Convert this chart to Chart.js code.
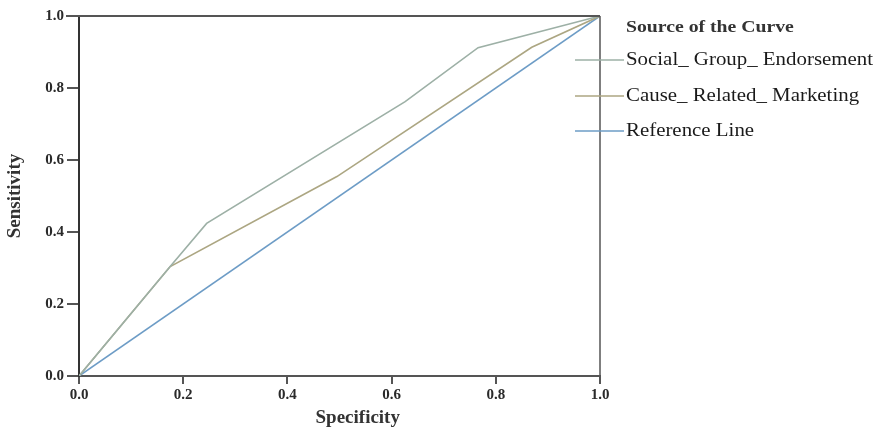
<!DOCTYPE html>
<html>
<head>
<meta charset="utf-8">
<script src="https://cdn.jsdelivr.net/npm/chart.js@4"></script>
<style>
  html, body { margin: 0; padding: 0; background: #fff; }
  #wrap { width: 884px; height: 429px; }
</style>
</head>
<body>
<div id="wrap"><canvas id="rocChart" width="884" height="429"></canvas></div>
<script>
// ROC curves, values
const seriesNames = ['Social_ Group_ Endorsement', 'Cause_ Related_ Marketing', 'Reference Line'];
const socialX = [0, 0.175, 0.245, 0.626, 0.766, 1];
const socialY = [0, 0.304, 0.424, 0.762, 0.912, 1];
const causeX = [0, 0.175, 0.495, 0.869, 1];
const causeY = [0, 0.304, 0.554, 0.913, 1];
const refX = [0, 1];
const refY = [0, 1];
const tickValues = [0, 0.2, 0.4, 0.6, 0.8, 1.0];
const colors = ['#9db0a6', '#aca682', '#6d9cc6'];

const serif = '"Liberation Serif", "DejaVu Serif", serif';

function toPoints(xs, ys) {
    return xs.map((x, i) => ({ x: x, y: ys[i] }));
}

// frame (top + right), x title and the custom legend
const framePlugin = {
    id: 'frame',
    afterDraw(chart) {
        const ctx = chart.ctx;
        const a = chart.chartArea;
        ctx.save();
        ctx.strokeStyle = '#555';
        ctx.lineWidth = 2;
        ctx.beginPath();
        ctx.moveTo(a.left - 13, a.top);
        ctx.lineTo(a.right, a.top);
        ctx.stroke();
        ctx.lineWidth = 1.5;
        ctx.beginPath();
        ctx.moveTo(a.right, a.top);
        ctx.lineTo(a.right, a.bottom);
        ctx.stroke();

        // x axis title sits a little right of the centre in the original
        ctx.fillStyle = '#333';
        ctx.textAlign = 'center';
        ctx.textBaseline = 'middle';
        ctx.font = 'bold 19px ' + serif;
        ctx.fillText('Specificity', a.left + (a.right - a.left) * 0.535, 418);
        ctx.textAlign = 'left';

        // legend
        const lx = a.right + 26;
        const rows = [60, 96, 131];
        chart.data.datasets.forEach((ds, i) => {
            ctx.strokeStyle = ds.borderColor;
            ctx.lineWidth = 1.5;
            ctx.beginPath();
            ctx.moveTo(a.right - 25, rows[i]);
            ctx.lineTo(a.right + 24, rows[i]);
            ctx.stroke();
        });
        // text is a bit wide in the original, stretch it horizontally
        ctx.translate(lx, 0);
        ctx.scale(1.16, 1);
        ctx.fillStyle = '#333';
        ctx.font = 'bold 17px ' + serif;
        ctx.fillText('Source of the Curve', 0, 28);
        ctx.font = '18px ' + serif;
        ctx.fillStyle = '#1a1a1a';
        chart.data.datasets.forEach((ds, i) => {
            ctx.fillText(ds.label, 0, rows[i]);
        });
        ctx.restore();
    }
};

const ctx = document.getElementById('rocChart');
new Chart(ctx, {
    type: 'scatter',
    data: {
        datasets: [
            { label: seriesNames[0], data: toPoints(socialX, socialY), borderColor: colors[0] },
            { label: seriesNames[1], data: toPoints(causeX, causeY), borderColor: colors[1] },
            { label: seriesNames[2], data: toPoints(refX, refY), borderColor: colors[2] }
        ].map(d => Object.assign(d, {
            showLine: true,
            borderWidth: 1.6,
            pointRadius: 0,
            tension: 0,
            fill: false
        }))
    },
    options: {
        responsive: false,
        animation: false,
        layout: { padding: { top: 16, right: 284, left: 0, bottom: 0 } },
        plugins: {
            legend: { display: false },
            tooltip: { enabled: false }
        },
        scales: {
            x: {
                type: 'linear',
                min: 0,
                max: 1,
                afterBuildTicks: s => { s.ticks = tickValues.map(v => ({ value: v })); },
                afterFit: s => { s.height = 53; },
                grid: { drawOnChartArea: false, drawTicks: true, tickLength: 8, color: '#555', lineWidth: 2 },
                border: { display: true, color: '#555', width: 2 },
                ticks: {
                    padding: 2,
                    color: '#2a2a2a',
                    font: { family: serif, size: 15, weight: 'bold' },
                    callback: v => v.toFixed(1)
                },
                title: { display: false }
            },
            y: {
                type: 'linear',
                min: 0,
                max: 1,
                afterBuildTicks: s => { s.ticks = tickValues.map(v => ({ value: v })); },
                afterFit: s => { s.width = 79; },
                grid: { drawOnChartArea: false, drawTicks: true, tickLength: 12, color: '#555', lineWidth: 2 },
                border: { display: true, color: '#333', width: 2 },
                ticks: {
                    padding: 3,
                    color: '#2a2a2a',
                    font: { family: serif, size: 15, weight: 'bold' },
                    callback: v => v.toFixed(1)
                },
                title: {
                    display: true,
                    text: 'Sensitivity',
                    color: '#333',
                    font: { family: serif, size: 19, weight: 'bold' },
                    padding: { top: 4, bottom: 0 }
                }
            }
        }
    },
    plugins: [framePlugin]
});
</script>
</body>
</html>
